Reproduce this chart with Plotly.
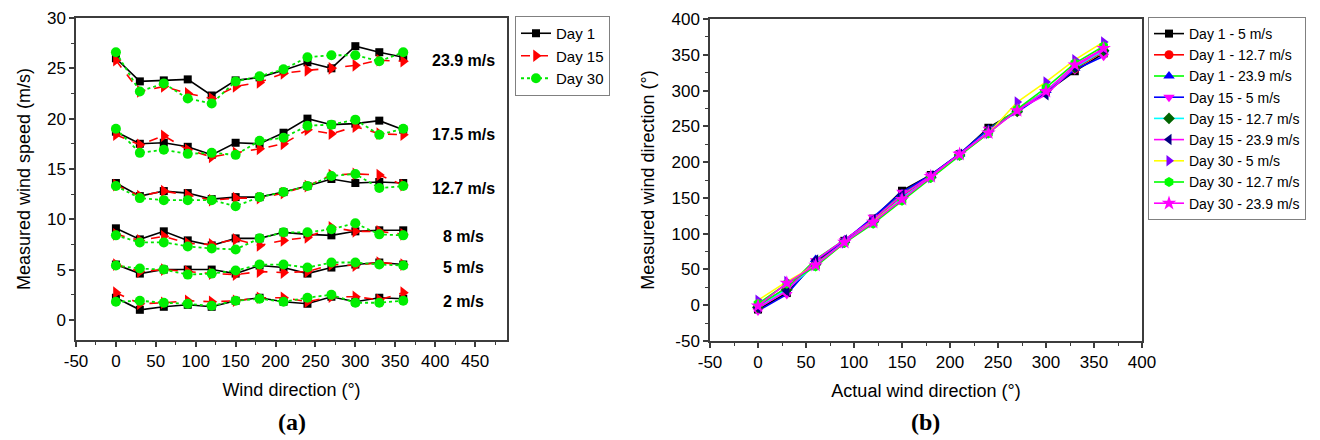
import plotly.graph_objects as go

FONT = "Arial, Liberation Sans, sans-serif"

# ---------------- Panel (a) data ----------------
directions = [0, 30, 60, 90, 120, 150, 180, 210, 240, 270, 300, 330, 360]
speed_labels = ["23.9 m/s", "17.5 m/s", "12.7 m/s", "8 m/s", "5 m/s", "2 m/s"]
label_y = [25.8, 18.4, 13.1, 8.3, 5.2, 1.8]

day1_239 = [26.0, 23.7, 23.8, 23.9, 22.3, 23.8, 24.1, 24.8, 25.6, 25.0, 27.2, 26.6, 26.1]
day15_239 = [25.8, 22.7, 23.2, 22.5, 22.0, 23.2, 23.6, 24.5, 24.8, 25.0, 25.3, 25.8, 25.7]
day30_239 = [26.6, 22.7, 23.5, 22.0, 21.5, 23.7, 24.2, 24.9, 26.1, 26.3, 26.3, 25.7, 26.6]

day1_175 = [18.7, 17.5, 17.6, 17.2, 16.4, 17.6, 17.5, 18.6, 20.0, 19.4, 19.5, 19.8, 18.9]
day15_175 = [18.4, 17.4, 18.3, 16.9, 16.2, 16.6, 17.0, 17.5, 18.9, 18.5, 19.2, 18.5, 18.4]
day30_175 = [19.0, 16.6, 16.9, 16.5, 16.6, 16.4, 17.8, 18.1, 19.3, 19.4, 19.9, 18.4, 19.0]

day1_127 = [13.6, 12.3, 12.8, 12.6, 12.0, 12.2, 12.2, 12.7, 13.3, 14.0, 13.6, 13.7, 13.6]
day15_127 = [13.4, 12.3, 12.8, 12.4, 11.9, 12.1, 12.1, 12.6, 13.3, 14.4, 14.5, 14.4, 13.4]
day30_127 = [13.3, 12.1, 11.9, 11.9, 11.9, 11.3, 12.2, 12.7, 13.3, 14.3, 14.5, 13.1, 13.3]

day1_8 = [9.1, 8.0, 8.8, 7.9, 7.4, 8.1, 8.1, 8.7, 8.5, 8.4, 8.8, 8.9, 8.9]
day15_8 = [8.5, 7.9, 8.3, 7.6, 7.5, 8.0, 7.4, 7.9, 8.2, 9.2, 8.8, 8.8, 8.5]
day30_8 = [8.4, 7.7, 7.7, 7.3, 7.1, 7.0, 8.1, 8.7, 8.7, 9.0, 9.6, 8.5, 8.4]

day1_5 = [5.5, 4.6, 5.0, 5.0, 5.0, 4.6, 5.4, 5.2, 4.6, 5.2, 5.5, 5.7, 5.5]
day15_5 = [5.5, 4.8, 5.0, 4.8, 4.6, 4.5, 4.8, 4.7, 4.8, 5.5, 5.4, 5.7, 5.5]
day30_5 = [5.4, 5.1, 5.0, 4.5, 4.6, 4.9, 5.5, 5.5, 5.2, 5.7, 5.7, 5.5, 5.4]

day1_2 = [2.2, 1.0, 1.3, 1.5, 1.3, 1.9, 2.2, 1.8, 1.6, 2.3, 1.8, 2.2, 2.1]
day15_2 = [2.7, 1.6, 1.7, 1.9, 1.8, 1.9, 2.2, 2.2, 1.8, 2.3, 2.3, 2.0, 2.7]
day30_2 = [1.8, 1.9, 1.7, 1.6, 1.4, 1.9, 2.1, 1.8, 2.2, 2.5, 1.7, 1.7, 1.9]

day_names_a = ["Day 1", "Day 15", "Day 30"]
groups_a = {
    "Day 1": [day1_239, day1_175, day1_127, day1_8, day1_5, day1_2],
    "Day 15": [day15_239, day15_175, day15_127, day15_8, day15_5, day15_2],
    "Day 30": [day30_239, day30_175, day30_127, day30_8, day30_5, day30_2],
}

# tick values / labels (ASCII hyphen minus as in the original)
ticks_a_x = [-50, 0, 50, 100, 150, 200, 250, 300, 350, 400, 450]
ticks_a_y = [0, 5, 10, 15, 20, 25, 30]
ticks_b = [-50, 0, 50, 100, 150, 200, 250, 300, 350, 400]

# ---------------- Panel (b) data ----------------
actual_dir = [0, 30, 60, 90, 120, 150, 180, 210, 240, 270, 300, 330, 360]
names_b = ["Day 1 - 5 m/s", "Day 1 - 12.7 m/s", "Day 1 - 23.9 m/s",
           "Day 15 - 5 m/s", "Day 15 - 12.7 m/s", "Day 15 - 23.9 m/s",
           "Day 30 - 5 m/s", "Day 30 - 12.7 m/s", "Day 30 - 23.9 m/s"]
b_d1_5 = [-6, 17, 60, 90, 121, 160, 182, 211, 248, 272, 298, 327, 352]
b_d1_127 = [-2, 25, 58, 89, 118, 152, 180, 210, 244, 271, 299, 330, 355]
b_d1_239 = [0, 24, 64, 91, 119, 156, 181, 211, 246, 273, 300, 331, 357]
b_d15_5 = [-8, 15, 62, 90, 123, 158, 182, 212, 246, 270, 297, 329, 348]
b_d15_127 = [-3, 22, 57, 88, 117, 150, 179, 210, 243, 271, 300, 332, 356]
b_d15_239 = [-4, 20, 63, 91, 120, 154, 181, 211, 242, 273, 294, 333, 358]
b_d30_5 = [7, 33, 56, 87, 117, 148, 178, 210, 240, 284, 312, 343, 368]
b_d30_127 = [2, 30, 54, 87, 114, 146, 178, 209, 240, 274, 304, 338, 362]
b_d30_239 = [-1, 31, 56, 88, 116, 148, 180, 211, 241, 272, 299, 336, 359]
series_b = [b_d1_5, b_d1_127, b_d1_239, b_d15_5, b_d15_127, b_d15_239,
            b_d30_5, b_d30_127, b_d30_239]

# ---------------- styles ----------------
style_a = {
    "Day 1": dict(line=dict(color="black", width=1.6, dash="solid"),
                  marker=dict(symbol="square", size=8, color="black")),
    "Day 15": dict(line=dict(color="#ff0000", width=1.6, dash="dash"),
                   marker=dict(symbol="triangle-right", size=11, color="#ff0000")),
    "Day 30": dict(line=dict(color="#00e600", width=1.8, dash="dot"),
                   marker=dict(symbol="circle", size=10, color="#00ee00")),
}
line_colors_b = ["black", "#ff0000", "#00ff00", "#0000ff", "#00ffff",
                 "#ff00ff", "#ffff00", "#00ff00", "#ff00ff"]
marker_colors_b = ["black", "#ff0000", "#0000ff", "#ff00ff", "#006400",
                   "#000080", "#8000ff", "#00ff00", "#ff00ff"]
marker_symbols_b = ["square", "circle", "triangle-up", "triangle-down", "diamond",
                    "triangle-left", "triangle-right", "hexagon", "star"]
marker_sizes_b = [8, 9, 10, 10, 9, 10, 10, 10, 11]

fig = go.Figure()

for day in day_names_a:
    for i, vals in enumerate(groups_a[day]):
        st = style_a[day]
        fig.add_trace(go.Scatter(
            x=directions, y=vals, mode="lines+markers", name=day,
            legendgroup=day, showlegend=(i == 0), legend="legend",
            line=st["line"], marker=st["marker"],
            xaxis="x", yaxis="y"))

for k, vals in enumerate(series_b):
    fig.add_trace(go.Scatter(
        x=actual_dir, y=vals, mode="lines+markers", name=names_b[k],
        legend="legend2",
        line=dict(color=line_colors_b[k], width=1.6),
        marker=dict(symbol=marker_symbols_b[k], size=marker_sizes_b[k],
                    color=marker_colors_b[k]),
        xaxis="x2", yaxis="y2"))

for txt, yy in zip(speed_labels, label_y):
    fig.add_annotation(x=436, y=yy, xref="x", yref="y", text=f"<b>{txt}</b>",
                       showarrow=False, font=dict(family=FONT, size=16, color="black"),
                       xanchor="center", yanchor="middle")

fig.add_annotation(x=292 / 1320, y=1 - 422 / 440, xref="paper", yref="paper",
                   text="<b>(a)</b>", showarrow=False,
                   font=dict(family="Liberation Serif, Times New Roman, serif", size=24, color="black"),
                   xanchor="center", yanchor="middle")
fig.add_annotation(x=925 / 1320, y=1 - 422 / 440, xref="paper", yref="paper",
                   text="<b>(b)</b>", showarrow=False,
                   font=dict(family="Liberation Serif, Times New Roman, serif", size=24, color="black"),
                   xanchor="center", yanchor="middle")


def axis_common(minor_step):
    return dict(showline=True, mirror=True, linecolor="#3c3c3c", linewidth=1.5,
                ticks="outside", ticklen=5, tickwidth=1.5, tickcolor="#3c3c3c",
                showgrid=False, zeroline=False, automargin=False,
                tickfont=dict(family=FONT, size=17, color="black"),
                minor=dict(tickmode="linear", tick0=0, dtick=minor_step, ticks="outside",
                           ticklen=3, tickwidth=1.2, tickcolor="#3c3c3c", showgrid=False))


TITLE_FONT = dict(family=FONT, size=18)

fig.update_layout(
    width=1320, height=440,
    margin=dict(l=0, r=0, t=0, b=0),
    paper_bgcolor="white", plot_bgcolor="white",
    font=dict(family=FONT, color="black"),
    xaxis=dict(domain=[76 / 1320, 507 / 1320], range=[-50, 490],
               tickmode="array", tickvals=ticks_a_x, ticktext=[str(v) for v in ticks_a_x],
               title=dict(text="Wind direction (°)", font=TITLE_FONT, standoff=13),
               anchor="y", **axis_common(25)),
    yaxis=dict(domain=[1 - 340 / 440, 1 - 18 / 440], range=[-2, 30],
               tickmode="array", tickvals=ticks_a_y, ticktext=[str(v) for v in ticks_a_y],
               title=dict(text="Measured wind speed (m/s)", font=TITLE_FONT, standoff=12),
               anchor="x", **axis_common(2.5)),
    xaxis2=dict(domain=[710 / 1320, 1142 / 1320], range=[-50, 400],
                tickmode="array", tickvals=ticks_b, ticktext=[str(v) for v in ticks_b],
                title=dict(text="Actual wind direction (°)", font=TITLE_FONT, standoff=13),
                anchor="y2", **axis_common(25)),
    yaxis2=dict(domain=[1 - 341 / 440, 1 - 19 / 440], range=[-50, 400],
                tickmode="array", tickvals=ticks_b, ticktext=[str(v) for v in ticks_b],
                title=dict(text="Measured wind direction (°)", font=TITLE_FONT, standoff=12),
                anchor="x2", **axis_common(25)),
    legend=dict(x=515 / 1320, y=1 - 16 / 440, xanchor="left", yanchor="top",
                bordercolor="#808080", borderwidth=1, bgcolor="white",
                font=dict(family=FONT, size=15, color="black"), tracegroupgap=0),
    legend2=dict(x=1148 / 1320, y=1 - 17 / 440, xanchor="left", yanchor="top",
                 bordercolor="#808080", borderwidth=1, bgcolor="white",
                 font=dict(family=FONT, size=14, color="black"), tracegroupgap=0),
    showlegend=True,
)

fig.write_html("out.html")
